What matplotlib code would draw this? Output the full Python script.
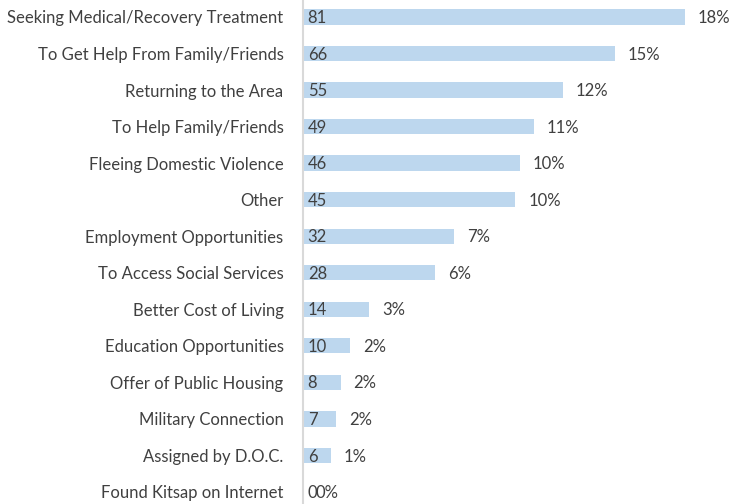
import matplotlib.pyplot as plt

categories = ["Seeking Medical/Recovery Treatment", "To Get Help From Family/Friends",
              "Returning to the Area", "To Help Family/Friends", "Fleeing Domestic Violence",
              "Other", "Employment Opportunities", "To Access Social Services",
              "Better Cost of Living", "Education Opportunities", "Offer of Public Housing",
              "Military Connection", "Assigned by D.O.C.", "Found Kitsap on Internet"]
counts = [81, 66, 55, 49, 46, 45, 32, 28, 14, 10, 8, 7, 6, 0]
percents = ["18%", "15%", "12%", "11%", "10%", "10%", "7%", "6%", "3%", "2%", "2%", "2%", "1%", "0%"]

plt.rcParams['font.family'] = ['Lato', 'DejaVu Sans']
txt = '#404040'

fig = plt.figure(figsize=(7.46, 5.04), dpi=100)
ax = fig.add_axes([303/746, 0, 1 - 303/746, 1])

y = list(range(len(categories)))
ax.barh(y, counts, height=0.42, color='#bdd7ee')
for i, (c, p) in enumerate(zip(counts, percents)):
    ax.text(1.0, i + 0.03, str(c), va='center', ha='left', fontsize=12, color=txt)
    ax.text(c + 2.7, i + 0.03, p, va='center', ha='left', fontsize=12, color=txt)

ax.set_xlim(0, 443/4.72)
ax.set_ylim(13.33, -0.465)
ax.set_yticks(y)
ax.set_yticklabels(categories, fontsize=12, color=txt)
ax.tick_params(axis='y', length=0, pad=14)
ax.set_xticks([])
for s in ['top', 'right', 'bottom']:
    ax.spines[s].set_visible(False)
ax.spines['left'].set_color('#d9d9d9')
ax.spines['left'].set_linewidth(1.5)

fig.savefig('out.png', dpi=100)
